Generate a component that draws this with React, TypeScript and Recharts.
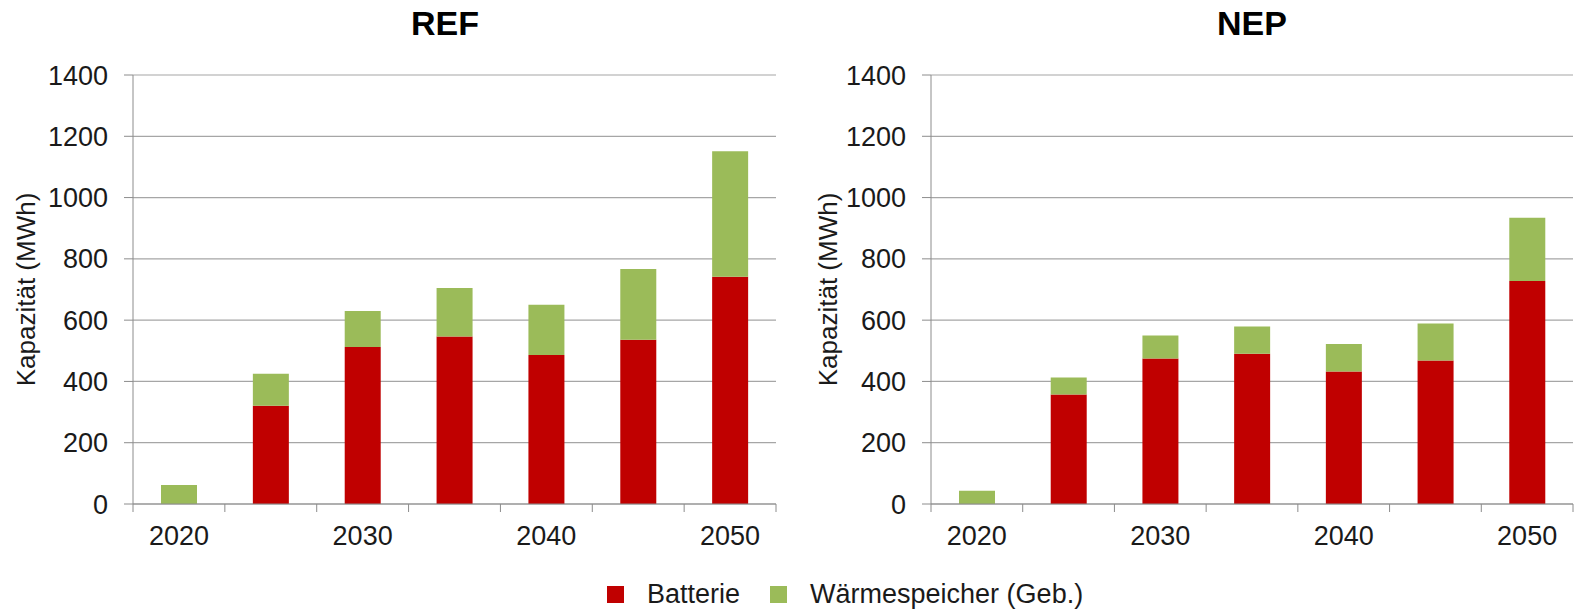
import { BarChart, Bar, XAxis, YAxis, CartesianGrid } from "recharts";

const years = ["2020", "2025", "2030", "2035", "2040", "2045", "2050"];
const refBatterie = [0, 321, 512, 547, 486, 536, 742];
const refWaerme = [62, 104, 118, 158, 164, 231, 409];
const nepBatterie = [0, 357, 475, 490, 432, 468, 728];
const nepWaerme = [43, 56, 75, 89, 90, 121, 206];
const yTicks = [0, 200, 400, 600, 800, 1000, 1200, 1400];
const labeledYears = ["2020", "2030", "2040", "2050"];

const RED = "#c00000";
const GREEN = "#9bbb59";
const AXIS = "#8c8c8c";
const GRID = "#a6a6a6";
const FONT = "'Liberation Sans', Arial, sans-serif";

const buildRows = (bat: number[], warm: number[]) =>
  years.map((year, i) => ({ year, batterie: bat[i], waerme: warm[i] }));

// category tick: label every second year, tick marks between categories
function YearTick(props: any) {
  const { x, y, payload, index, band } = props;
  const last = index === years.length - 1;
  return (
    <g>
      <line x1={x - band / 2} y1={y} x2={x - band / 2} y2={y + 8} stroke={AXIS} />
      {last && <line x1={x + band / 2} y1={y} x2={x + band / 2} y2={y + 8} stroke={AXIS} />}
      {labeledYears.includes(payload.value) && (
        <text x={x} y={y + 41} textAnchor="middle" fontSize={27} fill="#1a1a1a" fontFamily={FONT}>
          {payload.value}
        </text>
      )}
    </g>
  );
}

function AxisTitle(props: any) {
  const { viewBox, cx } = props;
  const cy = viewBox.y + viewBox.height / 2;
  return (
    <text
      x={cx}
      y={cy}
      transform={`rotate(-90 ${cx} ${cy})`}
      textAnchor="middle"
      dominantBaseline="central"
      fontSize={26}
      fill="#1a1a1a"
      fontFamily={FONT}
    >
      Kapazität (MWh)
    </text>
  );
}

type PanelProps = {
  left: number;
  width: number;
  axisWidth: number;
  rightMargin: number;
  labelX: number;
  bat: number[];
  warm: number[];
};

function Panel({ left, width, axisWidth, rightMargin, labelX, bat, warm }: PanelProps) {
  const band = (width - axisWidth - rightMargin) / years.length;
  return (
    <div style={{ position: "absolute", left, top: 0 }}>
      <BarChart
        width={width}
        height={560}
        data={buildRows(bat, warm)}
        margin={{ top: 75, right: rightMargin, bottom: 6, left: 0 }}
        barSize={36}
      >
        <CartesianGrid vertical={false} stroke={GRID} strokeWidth={1.2} />
        <XAxis
          dataKey="year"
          interval={0}
          height={50}
          tickLine={false}
          tickSize={0}
          tickMargin={0}
          axisLine={{ stroke: AXIS }}
          tick={<YearTick band={band} />}
        />
        <YAxis
          width={axisWidth}
          domain={[0, 1400]}
          ticks={yTicks}
          interval={0}
          tickSize={9}
          tickMargin={16}
          tickLine={{ stroke: AXIS }}
          axisLine={{ stroke: AXIS }}
          tick={{ fontSize: 27, fill: "#1a1a1a", fontFamily: FONT }}
          label={<AxisTitle cx={labelX} />}
        />
        <Bar dataKey="batterie" stackId="s" fill={RED} isAnimationActive={false} />
        <Bar dataKey="waerme" stackId="s" fill={GREEN} isAnimationActive={false} />
      </BarChart>
    </div>
  );
}

const titleStyle = {
  position: "absolute" as const,
  top: 3,
  fontFamily: FONT,
  fontWeight: 700,
  fontSize: 34,
  color: "#000",
  transform: "translateX(-50%)",
  lineHeight: "40px",
};

const legendText = { fontSize: 27, fontFamily: FONT, color: "#1a1a1a" };
const swatch = (color: string) => ({ width: 17, height: 17, background: color });

export default function App() {
  return (
    <div
      style={{
        position: "absolute",
        left: 0,
        top: 0,
        width: 1575,
        height: 611,
        background: "#fff",
        overflow: "hidden",
      }}
    >
      <div style={{ ...titleStyle, left: 445 }}>REF</div>
      <div style={{ ...titleStyle, left: 1252 }}>NEP</div>
      <Panel left={0} width={790} axisWidth={133} rightMargin={14} labelX={26} bat={refBatterie} warm={refWaerme} />
      <Panel left={787} width={788} axisWidth={144} rightMargin={2} labelX={41} bat={nepBatterie} warm={nepWaerme} />
      <div
        style={{
          position: "absolute",
          top: 576,
          left: 607,
          display: "flex",
          alignItems: "center",
          height: 36,
        }}
      >
        <div style={swatch(RED)} />
        <span style={{ ...legendText, marginLeft: 23 }}>Batterie</span>
        <div style={{ ...swatch(GREEN), marginLeft: 30 }} />
        <span style={{ ...legendText, marginLeft: 23 }}>Wärmespeicher (Geb.)</span>
      </div>
    </div>
  );
}
